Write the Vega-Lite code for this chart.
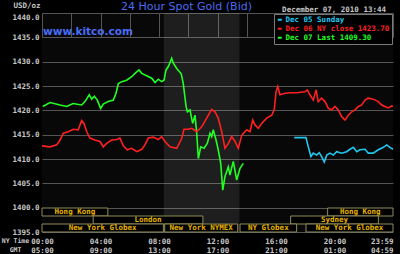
{
  "$schema": "https://vega.github.io/schema/vega-lite/v6.json",
  "width": 351,
  "height": 219,
  "autosize": {"type": "none"},
  "padding": {"left": 42, "top": 13, "right": 7, "bottom": 22},
  "background": "#000000",
  "config": {
    "view": {"fill": "#080808", "stroke": null},
    "axis": {
      "domain": false, "ticks": false, "grid": true, "gridColor": "#555555", "gridWidth": 1, "gridOpacity": 1,
      "labelFont": "DejaVu Sans Mono", "labelFontSize": 7.5, "labelFontWeight": "bold", "labelColor": "#c8c8c8",
      "titleFont": "DejaVu Sans Mono", "titleFontSize": 7.5, "titleFontWeight": "bold", "titleColor": "#c8c8c8"
    },
    "text": {"font": "DejaVu Sans Mono"}
  },
  "datasets": {
    "prices": [
      {"s":"d7","h":0.05,"p":1420.8},{"s":"d7","h":0.55,"p":1421.6},{"s":"d7","h":1.23,"p":1421.1},{"s":"d7","h":1.69,"p":1420.8},
      {"s":"d7","h":2.12,"p":1421.4},{"s":"d7","h":2.71,"p":1421.1},{"s":"d7","h":2.94,"p":1421.8},{"s":"d7","h":3.23,"p":1423.2},
      {"s":"d7","h":3.40,"p":1422.3},{"s":"d7","h":3.58,"p":1422.9},{"s":"d7","h":3.78,"p":1422.1},{"s":"d7","h":4.01,"p":1420.4},
      {"s":"d7","h":4.19,"p":1421.3},{"s":"d7","h":4.53,"p":1421.8},{"s":"d7","h":4.88,"p":1422.1},{"s":"d7","h":5.06,"p":1423.5},
      {"s":"d7","h":5.22,"p":1425.5},{"s":"d7","h":5.45,"p":1425.9},{"s":"d7","h":5.79,"p":1426.2},{"s":"d7","h":6.13,"p":1426.9},
      {"s":"d7","h":6.36,"p":1427.6},{"s":"d7","h":6.63,"p":1428.3},{"s":"d7","h":6.82,"p":1427.6},{"s":"d7","h":7.16,"p":1427.1},
      {"s":"d7","h":7.50,"p":1426.6},{"s":"d7","h":7.73,"p":1425.7},{"s":"d7","h":7.95,"p":1426.4},{"s":"d7","h":8.18,"p":1425.9},
      {"s":"d7","h":8.34,"p":1426.2},{"s":"d7","h":8.48,"p":1428.3},{"s":"d7","h":8.64,"p":1429.0},{"s":"d7","h":8.87,"p":1430.7},
      {"s":"d7","h":8.98,"p":1429.7},{"s":"d7","h":9.21,"p":1428.6},{"s":"d7","h":9.52,"p":1427.5},{"s":"d7","h":9.66,"p":1425.5},
      {"s":"d7","h":9.85,"p":1420.8},{"s":"d7","h":9.94,"p":1419.7},{"s":"d7","h":10.12,"p":1420.1},{"s":"d7","h":10.30,"p":1417.3},
      {"s":"d7","h":10.46,"p":1419.0},{"s":"d7","h":10.58,"p":1415.3},{"s":"d7","h":10.69,"p":1410.1},{"s":"d7","h":10.85,"p":1412.5},
      {"s":"d7","h":11.08,"p":1412.2},{"s":"d7","h":11.30,"p":1413.2},{"s":"d7","h":11.49,"p":1415.3},{"s":"d7","h":11.60,"p":1414.6},
      {"s":"d7","h":11.71,"p":1416.0},{"s":"d7","h":11.90,"p":1413.9},{"s":"d7","h":12.05,"p":1411.9},{"s":"d7","h":12.22,"p":1409.1},
      {"s":"d7","h":12.36,"p":1403.6},{"s":"d7","h":12.51,"p":1406.4},{"s":"d7","h":12.74,"p":1408.4},{"s":"d7","h":12.85,"p":1406.7},
      {"s":"d7","h":13.08,"p":1409.5},{"s":"d7","h":13.31,"p":1405.7},{"s":"d7","h":13.54,"p":1408.1},{"s":"d7","h":13.76,"p":1409.1},

      {"s":"d6","h":0.0,"p":1412.7},{"s":"d6","h":0.55,"p":1412.5},{"s":"d6","h":1.01,"p":1412.9},{"s":"d6","h":1.23,"p":1413.9},
      {"s":"d6","h":1.46,"p":1415.3},{"s":"d6","h":1.80,"p":1415.6},{"s":"d6","h":2.14,"p":1416.1},{"s":"d6","h":2.48,"p":1416.0},
      {"s":"d6","h":2.71,"p":1417.9},{"s":"d6","h":2.87,"p":1417.3},{"s":"d6","h":3.06,"p":1415.6},{"s":"d6","h":3.28,"p":1414.3},
      {"s":"d6","h":3.62,"p":1413.9},{"s":"d6","h":3.97,"p":1413.6},{"s":"d6","h":4.19,"p":1412.5},{"s":"d6","h":4.42,"p":1413.2},
      {"s":"d6","h":4.77,"p":1413.9},{"s":"d6","h":5.11,"p":1414.0},{"s":"d6","h":5.33,"p":1414.3},{"s":"d6","h":5.56,"p":1412.7},
      {"s":"d6","h":5.83,"p":1411.9},{"s":"d6","h":6.13,"p":1412.2},{"s":"d6","h":6.48,"p":1411.5},{"s":"d6","h":6.82,"p":1412.0},
      {"s":"d6","h":7.04,"p":1412.9},{"s":"d6","h":7.27,"p":1414.3},{"s":"d6","h":7.61,"p":1414.5},{"s":"d6","h":7.95,"p":1414.0},
      {"s":"d6","h":8.18,"p":1414.6},{"s":"d6","h":8.41,"p":1413.6},{"s":"d6","h":8.75,"p":1412.5},{"s":"d6","h":9.21,"p":1412.2},
      {"s":"d6","h":9.55,"p":1414.2},{"s":"d6","h":9.71,"p":1416.1},{"s":"d6","h":10.00,"p":1416.1},{"s":"d6","h":10.24,"p":1416.3},
      {"s":"d6","h":10.58,"p":1415.6},{"s":"d6","h":10.92,"p":1416.6},{"s":"d6","h":11.26,"p":1418.4},{"s":"d6","h":11.60,"p":1420.2},
      {"s":"d6","h":11.83,"p":1419.7},{"s":"d6","h":12.05,"p":1418.4},{"s":"d6","h":12.29,"p":1415.6},{"s":"d6","h":12.51,"p":1412.2},
      {"s":"d6","h":12.74,"p":1413.2},{"s":"d6","h":12.97,"p":1414.6},{"s":"d6","h":13.20,"p":1413.6},{"s":"d6","h":13.42,"p":1412.2},
      {"s":"d6","h":13.66,"p":1414.9},{"s":"d6","h":14.00,"p":1416.0},{"s":"d6","h":14.22,"p":1415.6},{"s":"d6","h":14.41,"p":1418.0},
      {"s":"d6","h":14.56,"p":1417.0},{"s":"d6","h":14.79,"p":1416.3},{"s":"d6","h":15.02,"p":1417.3},{"s":"d6","h":15.36,"p":1418.4},
      {"s":"d6","h":15.71,"p":1419.0},{"s":"d6","h":15.88,"p":1420.1},{"s":"d6","h":16.00,"p":1423.8},{"s":"d6","h":16.12,"p":1424.9},
      {"s":"d6","h":16.27,"p":1423.2},{"s":"d6","h":16.62,"p":1423.5},{"s":"d6","h":16.96,"p":1423.6},{"s":"d6","h":17.42,"p":1423.6},
      {"s":"d6","h":17.98,"p":1423.8},{"s":"d6","h":18.14,"p":1424.2},{"s":"d6","h":18.32,"p":1423.2},{"s":"d6","h":18.55,"p":1422.1},
      {"s":"d6","h":18.74,"p":1424.2},{"s":"d6","h":18.89,"p":1421.8},{"s":"d6","h":19.12,"p":1422.5},{"s":"d6","h":19.35,"p":1421.8},
      {"s":"d6","h":19.58,"p":1420.4},{"s":"d6","h":19.81,"p":1420.1},{"s":"d6","h":20.03,"p":1420.8},{"s":"d6","h":20.26,"p":1420.1},
      {"s":"d6","h":20.49,"p":1418.7},{"s":"d6","h":20.72,"p":1418.0},{"s":"d6","h":20.94,"p":1419.0},{"s":"d6","h":21.18,"p":1419.7},
      {"s":"d6","h":21.40,"p":1420.1},{"s":"d6","h":21.63,"p":1420.8},{"s":"d6","h":21.86,"p":1421.1},{"s":"d6","h":22.09,"p":1422.1},
      {"s":"d6","h":22.31,"p":1422.5},{"s":"d6","h":22.65,"p":1422.3},{"s":"d6","h":22.99,"p":1421.8},{"s":"d6","h":23.23,"p":1421.1},
      {"s":"d6","h":23.45,"p":1420.8},{"s":"d6","h":23.68,"p":1420.5},{"s":"d6","h":23.91,"p":1420.9},{"s":"d6","h":24.0,"p":1420.8},

      {"s":"d5","h":17.25,"p":1414.4},{"s":"d5","h":18.05,"p":1414.4},{"s":"d5","h":18.21,"p":1412.5},{"s":"d5","h":18.39,"p":1410.5},
      {"s":"d5","h":18.55,"p":1411.2},{"s":"d5","h":18.78,"p":1410.8},{"s":"d5","h":18.96,"p":1411.3},{"s":"d5","h":19.12,"p":1410.5},
      {"s":"d5","h":19.30,"p":1409.4},{"s":"d5","h":19.47,"p":1410.8},{"s":"d5","h":19.69,"p":1411.2},{"s":"d5","h":19.92,"p":1410.8},
      {"s":"d5","h":20.15,"p":1411.5},{"s":"d5","h":20.49,"p":1411.2},{"s":"d5","h":20.83,"p":1411.5},{"s":"d5","h":21.06,"p":1412.0},
      {"s":"d5","h":21.29,"p":1412.4},{"s":"d5","h":21.52,"p":1411.5},{"s":"d5","h":21.74,"p":1411.9},{"s":"d5","h":22.09,"p":1412.0},
      {"s":"d5","h":22.31,"p":1411.2},{"s":"d5","h":22.65,"p":1411.2},{"s":"d5","h":22.99,"p":1411.9},{"s":"d5","h":23.34,"p":1412.4},
      {"s":"d5","h":23.57,"p":1412.9},{"s":"d5","h":23.79,"p":1412.4},{"s":"d5","h":24.0,"p":1412.0}
    ],
    "sessions": [
      {"name":"Hong Kong","row":"r1","start":0,"end":4.5},
      {"name":"Hong Kong","row":"r1","start":19.53,"end":24},
      {"name":"London","row":"r2","start":3.5,"end":11.0},
      {"name":"Sydney","row":"r2","start":17.0,"end":23.0},
      {"name":"New York Globex","row":"r3","start":0,"end":8.3},
      {"name":"New York NYMEX","row":"r3","start":8.39,"end":13.38},
      {"name":"NY Globex","row":"r3","start":13.54,"end":17.41},
      {"name":"New York Globex","row":"r3","start":18.05,"end":24}
    ]
  },
  "layer": [
    {
      "data": {"values": [{"start": 8.33, "end": 13.5}]},
      "mark": {"type": "rect", "color": "#ffffff", "opacity": 0.09},
      "encoding": {
        "x": {"field": "start", "type": "quantitative", "scale": {"domain": [0, 24], "nice": false, "zero": false}},
        "x2": {"field": "end"}
      }
    },
    {
      "data": {"name": "sessions"},
      "transform": [{"calculate": "(datum.start + datum.end) / 2", "as": "mid"}],
      "encoding": {
        "y": {"field": "row", "type": "ordinal", "scale": {"type": "band", "domain": ["r1", "r2", "r3"], "range": [195, 219], "paddingInner": 0, "paddingOuter": 0}, "axis": null}
      },
      "layer": [
        {
          "mark": {"type": "rect", "fill": "#000000", "stroke": "#8c8c5c", "strokeWidth": 1},
          "encoding": {
            "x": {"field": "start", "type": "quantitative", "scale": {"domain": [0, 24], "nice": false, "zero": false}},
            "x2": {"field": "end"}
          }
        },
        {
          "mark": {"type": "text", "color": "#e8b400", "fontSize": 7.5, "fontWeight": "bold", "baseline": "middle", "align": "center"},
          "encoding": {
            "x": {"field": "mid", "type": "quantitative"},
            "text": {"field": "name"}
          }
        }
      ]
    },
    {
      "layer": [
        {
          "data": {"name": "prices"},
          "mark": {"type": "line", "strokeWidth": 1.6},
          "encoding": {
            "x": {
              "field": "h", "type": "quantitative",
              "scale": {"domain": [0, 24], "nice": false, "zero": false},
              "axis": {
                "values": [0, 2, 4, 6, 8, 10, 12, 14, 16, 18, 20, 22, 24],
                "tickCount": 13,
                "grid": true,
                "labelExpr": "datum.value == 24 ? ['23:59', '04:59'] : (datum.value % 4 == 0 ? [(datum.value < 10 ? '0' : '') + datum.value + ':00', ((datum.value + 5) % 24 < 10 ? '0' : '') + ((datum.value + 5) % 24) + ':00'] : '')",
                "labelAlign": {"condition": {"test": "datum.value == 24", "value": "right"}, "value": "center"},
                "labelPadding": 5, "labelLineHeight": 9.3, "labelOverlap": false, "labelBound": false, "labelFlush": false,
                "title": ["NY Time", "GMT"], "titleFontSize": 6.5, "titleX": -27, "titleY": 5, "titleAlign": "center", "titleBaseline": "top", "titleLineHeight": 9.3
              }
            },
            "y": {
              "field": "p", "type": "quantitative",
              "scale": {"domain": [1395, 1440], "nice": false, "zero": false},
              "axis": {
                "values": [1395, 1400, 1405, 1410, 1415, 1420, 1425, 1430, 1435, 1440],
                "tickCount": 10,
                "grid": true,
                "format": ".1f", "labelPadding": 3, "labelOverlap": false,
                "labelBaseline": {"condition": {"test": "datum.value == 1440", "value": "top"}, "value": "middle"},
                "title": "USD/oz", "titleAngle": 0, "titleAlign": "right", "titleBaseline": "middle", "titleX": -2, "titleY": -8
              }
            },
            "color": {
              "field": "s", "type": "nominal",
              "scale": {"domain": ["d5", "d6", "d7"], "range": ["#20c8f0", "#ff2020", "#22ff22"]},
              "legend": {
                "orient": "top-right", "offset": 1, "title": null,
                "symbolType": "stroke", "symbolSize": 16, "symbolStrokeWidth": 2,
                "labelFont": "DejaVu Sans Mono", "labelFontSize": 7.5, "labelFontWeight": "bold", "labelLimit": 200, "labelOffset": 2,
                "padding": 2, "rowPadding": 0, "strokeColor": "#7a7a7a", "fillColor": "#000000",
                "labelExpr": "datum.value == 'd5' ? 'Dec 05 Sunday' : (datum.value == 'd6' ? 'Dec 06 NY close 1423.70' : 'Dec 07 Last 1409.30')",
                "encode": {"labels": {"update": {"fill": {"scale": "color", "field": "value"}}}}
              }
            }
          }
        },
        {
          "data": {"values": [{}]},
          "mark": {"type": "text", "text": "24 Hour Spot Gold (Bid)", "font": "DejaVu Sans", "fontSize": 11, "color": "#4a6cf4", "align": "center", "baseline": "alphabetic"},
          "encoding": {"x": {"datum": 9.88, "type": "quantitative"}, "y": {"datum": 1440.62, "type": "quantitative"}}
        },
        {
          "data": {"values": [{}]},
          "mark": {"type": "text", "text": "www.kitco.com", "font": "DejaVu Sans", "fontSize": 10.5, "fontWeight": "bold", "color": "#4a6cf4", "align": "left", "baseline": "alphabetic", "dx": 1},
          "encoding": {"x": {"datum": 0, "type": "quantitative"}, "y": {"datum": 1435.5, "type": "quantitative"}}
        },
        {
          "data": {"values": [{}]},
          "mark": {"type": "text", "text": "December 07, 2010 13:44", "fontSize": 7.5, "fontWeight": "bold", "color": "#c8c8c8", "align": "right", "baseline": "alphabetic"},
          "encoding": {"x": {"datum": 23.52, "type": "quantitative"}, "y": {"datum": 1440.27, "type": "quantitative"}}
        }
      ]
    }
  ],
  "resolve": {"scale": {"y": "independent"}}
}
